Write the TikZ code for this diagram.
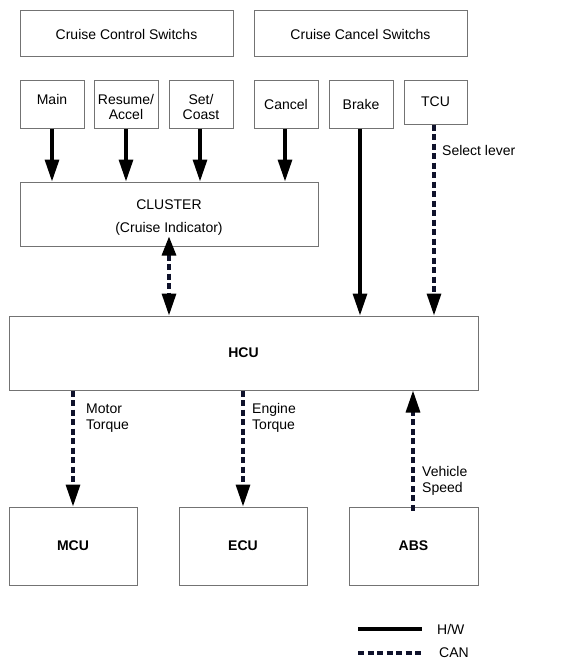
\documentclass[tikz,border=0pt]{standalone}
\usepackage{fontspec}
\setmainfont{Liberation Sans}
\usetikzlibrary{arrows.meta}
\definecolor{boxline}{rgb}{0.45,0.45,0.45}
\definecolor{canline}{rgb}{0.06,0.07,0.17}
\begin{document}
\begin{tikzpicture}[x=1pt,y=-1pt,
  box/.style={draw=boxline,line width=1pt,inner sep=0pt,align=center,font=\fontsize{14}{16}\selectfont},
  txt/.style={box,draw=none},
  bbox/.style={box,font=\fontsize{14}{16}\selectfont\bfseries},
  hw/.style={line width=3.2pt,black,-{Triangle[length=22pt,width=14pt]}},
  can/.style={line width=3.2pt,canline,dash pattern=on 6pt off 3.5pt,-{Triangle[length=22pt,width=14pt,color=black]}},
  lbl/.style={font=\fontsize{14}{16}\selectfont,align=left,inner sep=0pt,anchor=west}
]
\useasboundingbox (0,0) rectangle (578,669);
% top headers
\node[box,minimum width=213pt,minimum height=46pt] (ccs) at (126.5,34) {Cruise Control Switchs};
\node[box,minimum width=213pt,minimum height=46pt] (cns) at (360.5,34) {Cruise Cancel Switchs};
% switch boxes
\node[box,minimum width=64pt,minimum height=48pt] (main) at (52,104) {};
\node[txt] (maint) at (52,99) {Main};
\node[box,minimum width=64pt,minimum height=48pt] (res) at (126,104) {};
\node[txt,font=\fontsize{14}{15}\selectfont] (rest) at (126,106.5) {Resume/\\Accel};
\node[box,minimum width=64pt,minimum height=48pt] (set) at (201,104) {};
\node[txt,font=\fontsize{14}{15}\selectfont] (sett) at (201,106.5) {Set/\\Coast};
\node[box,minimum width=64pt,minimum height=48pt] (cancel) at (286,104) {Cancel};
\node[box,minimum width=64pt,minimum height=48pt] (brake) at (361,104) {Brake};
\node[box,minimum width=63pt,minimum height=44pt] (tcu) at (435.5,102) {TCU};
% cluster
\node[box,minimum width=298pt,minimum height=64pt] (cluster) at (169,214) {};
\node[txt] (clt) at (169,205) {CLUSTER};
\node[txt] (cli) at (169,229) {(Cruise Indicator)};
% HCU
\node[bbox,minimum width=469pt,minimum height=74pt] (hcu) at (243.5,353) {HCU};
% bottom
\node[bbox,minimum width=128pt,minimum height=78pt] (mcu) at (73,546) {MCU};
\node[bbox,minimum width=128pt,minimum height=78pt] (ecu) at (243,546) {ECU};
\node[bbox,minimum width=129pt,minimum height=78pt] (abs) at (413.5,546) {ABS};
% connectors
\draw[hw] (main.south) -- (main.south |- cluster.north);
\draw[hw] (res.south) -- (res.south |- cluster.north);
\draw[hw] ([xshift=-1pt]set.south) -- ([xshift=-1pt]set.south |- cluster.north);
\draw[hw] ([xshift=-1pt]cancel.south) -- ([xshift=-1pt]cancel.south |- cluster.north);
\draw[hw] ([xshift=-1pt]brake.south) -- ([xshift=-1pt]brake.south |- hcu.north);
\draw[can] ([xshift=-1.5pt]tcu.south) -- ([xshift=-1.5pt]tcu.south |- hcu.north);
\node[lbl] (sel) at (442,150) {Select lever};
\draw[can,{Triangle[length=19pt,width=14pt,color=black]}-{Triangle[length=22pt,width=14pt,color=black]}] ([yshift=10pt]cluster.south) -- (cluster.south |- hcu.north);
\draw[can] (mcu.north |- hcu.south) -- (mcu.north);
\node[lbl] (mt) at (86,418) {Motor\\Torque};
\draw[can] (ecu.north |- hcu.south) -- (ecu.north);
\node[lbl] (et) at (252,418) {Engine\\Torque};
\draw[can] ([xshift=-0.5pt,yshift=-4pt]abs.north) -- ([xshift=-0.5pt]abs.north |- hcu.south);
\node[lbl] (vs) at (422,481) {Vehicle\\Speed};
% legend
\coordinate (l1a) at (358,629);
\coordinate (l1b) at (422,629);
\coordinate (l2a) at (358,653);
\coordinate (l2b) at (424,653);
\draw[line width=3.2pt,black] (l1a) -- (l1b);
\draw[line width=3.2pt,canline,dash pattern=on 6pt off 3.5pt] (l2a) -- (l2b);
\node[lbl] (hwl) at (437,629) {H/W};
\node[lbl] (canl) at (439,653) {CAN};
\end{tikzpicture}
\end{document}
